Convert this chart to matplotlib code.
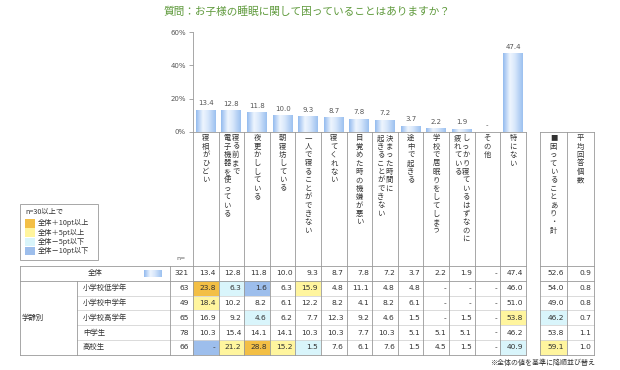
import numpy as np
import matplotlib.pyplot as plt
from matplotlib.colors import LinearSegmentedColormap
from matplotlib.patches import Rectangle

plt.rcParams['font.family'] = ['Noto Sans CJK JP', 'DejaVu Sans']

title = '質問：お子様の睡眠に関して困っていることはありますか？'

items = ['寝相がひどい', '寝る前まで\n電子機器を使っている', '夜更かししている', '朝寝坊している',
         '一人で寝ることができない', '寝てくれない', '目覚めた時の機嫌が悪い',
         '決まった時間に\n起きることができない', '途中で起きる', '学校で居眠りをしてしまう',
         'しっかり寝ているはずなのに\n疲れている', 'その他', '特にない']
extra_items = ['■困っていることあり・計', '平均回答個数']

# 0 = "-"
total_n = 321
total = [13.4, 12.8, 11.8, 10.0, 9.3, 8.7, 7.8, 7.2, 3.7, 2.2, 1.9, 0, 47.4]
total_extra = [52.6, 0.9]

groups = ['小学校低学年', '小学校中学年', '小学校高学年', '中学生', '高校生']
group_n = [63, 49, 65, 78, 66]
low = [23.8, 6.3, 1.6, 6.3, 15.9, 4.8, 11.1, 4.8, 4.8, 0, 0, 0, 46.0]
mid = [18.4, 10.2, 8.2, 6.1, 12.2, 8.2, 4.1, 8.2, 6.1, 0, 0, 0, 51.0]
high = [16.9, 9.2, 4.6, 6.2, 7.7, 12.3, 9.2, 4.6, 1.5, 0, 1.5, 0, 53.8]
jhs = [10.3, 15.4, 14.1, 14.1, 10.3, 10.3, 7.7, 10.3, 5.1, 5.1, 5.1, 0, 46.2]
hs = [0, 21.2, 28.8, 15.2, 1.5, 7.6, 6.1, 7.6, 1.5, 4.5, 1.5, 0, 40.9]
group_values = [low, mid, high, jhs, hs]
group_concern = [54.0, 49.0, 46.2, 53.8, 59.1]
group_avg = [0.8, 0.8, 0.7, 1.1, 1.0]

legend_labels = ['全体＋10pt以上', '全体＋5pt以上', '全体－5pt以下', '全体－10pt以下']
legend_colors = ['#f3bf45', '#fff59e', '#d9f5fb', '#9dbeec']

W, H = 620, 370
x0, cw = 193, 25.6
x_end = x0 + cw * len(items)
ex0, ecw = 540, 27
y_base, y_60 = 131.7, 32.3
t_top, rh = 266, 14.8
t_bot = t_top + rh * 6
line_c = '#999999'
light_c = '#d4d4d4'
txt_c = '#333333'

bar_cmap = LinearSegmentedColormap.from_list(
    'cyl', [(0, '#94bbef'), (0.35, '#eef5fe'), (0.6, '#d8e7fb'), (1, '#9cc1f0')])
grad = np.linspace(0, 1, 64).reshape(1, -1)


def fmt(v):
    return '-' if v == 0 else f'{v:.1f}'


def cell_color(v, base):
    if base == 0:
        return None
    d = round(v - base, 1)
    if d >= 10:
        return legend_colors[0]
    if d >= 5:
        return legend_colors[1]
    if d <= -10:
        return legend_colors[3]
    if d <= -5:
        return legend_colors[2]
    return None


fig = plt.figure(figsize=(6.2, 3.7), dpi=100)

# bar chart
ax = fig.add_axes([x0 / W, (H - y_base) / H, (x_end - x0) / W, (y_base - y_60) / H])
ax.patch.set_alpha(0)
xs = np.arange(len(items)) + 0.5
bars = ax.bar(xs, total, width=0.78, color='none', edgecolor='none')
for b in bars:
    if b.get_height() > 0:
        im = ax.imshow(grad, extent=[b.get_x(), b.get_x() + b.get_width(), 0, b.get_height()],
                       cmap=bar_cmap, aspect='auto', zorder=2)
        im.set_clip_path(b)
for x, v in zip(xs, total):
    ax.annotate(fmt(v), (x, v), xytext=(0, 2.5), textcoords='offset points',
                ha='center', va='bottom', fontsize=5, color='#555555', family='DejaVu Sans')
ax.set_xlim(0, len(items))
ax.set_ylim(0, 60)
ax.set_yticks([0, 20, 40, 60])
ax.set_yticklabels(['0%', '20%', '40%', '60%'], family='DejaVu Sans')
ax.tick_params(axis='y', labelsize=5, labelcolor='#555555', length=3, width=0.6, color=line_c, pad=2)
ax.set_xticks([])
for s in ['top', 'right', 'bottom']:
    ax.spines[s].set_visible(False)
ax.spines['left'].set_color(line_c)
ax.spines['left'].set_linewidth(0.6)

# overlay in pixel coordinates
ov = fig.add_axes([0, 0, 1, 1])
ov.set_xlim(0, W)
ov.set_ylim(H, 0)
ov.axis('off')

ov.text(307, 12, title, ha='center', va='center', fontsize=7.7, color='#5f9a3c')


def vtext(xc, ys, text, pitch=8.4, sep=8.4, fs=5.3):
    lines = text.split('\n')
    n = len(lines)
    for j, line in enumerate(lines):
        xx = xc + (n - 1) / 2 * sep - j * sep
        for k, ch in enumerate(line):
            ov.text(xx, ys + k * pitch, ch, ha='center', va='center', fontsize=fs, color=txt_c)


for i, lab in enumerate(items):
    vtext(x0 + cw * (i + 0.5), 138.3, lab)
for i, lab in enumerate(extra_items):
    vtext(ex0 + ecw * (i + 0.5), 138.3, lab)

ov.text(181, 258, 'n=', ha='center', va='center', fontsize=4.5, color='#555555', family='DejaVu Sans')

# table fills and numbers
rows_main = [total] + group_values
rows_extra = [total_extra] + [[c, a] for c, a in zip(group_concern, group_avg)]
for r in range(6):
    yc = t_top + rh * (r + 0.5)
    for i, v in enumerate(rows_main[r]):
        if r > 0:
            c = cell_color(v, total[i])
            if c:
                ov.add_patch(Rectangle((x0 + cw * i, t_top + rh * r), cw, rh, color=c, lw=0))
        ov.text(x0 + cw * (i + 1) - 3, yc, fmt(v), ha='right', va='center',
                fontsize=5.4, color=txt_c, family='DejaVu Sans')
    for i, v in enumerate(rows_extra[r]):
        if r > 0 and i == 0:
            c = cell_color(v, total_extra[0])
            if c:
                ov.add_patch(Rectangle((ex0 + ecw * i, t_top + rh * r), ecw, rh, color=c, lw=0))
        ov.text(ex0 + ecw * (i + 1) - 3, yc, fmt(v), ha='right', va='center',
                fontsize=5.4, color=txt_c, family='DejaVu Sans')

ns = [total_n] + group_n
for r, n in enumerate(ns):
    ov.text(189, t_top + rh * (r + 0.5), str(n), ha='right', va='center',
            fontsize=5.4, color=txt_c, family='DejaVu Sans')

ov.text(95, t_top + rh / 2, '全体', ha='center', va='center', fontsize=5.3, color=txt_c)
ov.imshow(grad, extent=[144, 162, t_top + 11, t_top + 4], cmap=bar_cmap, aspect='auto')
ov.text(22, t_top + rh * 3.5, '学齢別', ha='left', va='center', fontsize=5.3, color=txt_c)
for r, g in enumerate(groups):
    ov.text(83, t_top + rh * (r + 1.5), g, ha='left', va='center', fontsize=5.3, color=txt_c)

# table lines
lw = 0.6
for xl, xr in [(20, x_end), (ex0, ex0 + 2 * ecw)]:
    ov.plot([xl, xr], [t_top, t_top], color=line_c, lw=lw)
    ov.plot([xl, xr], [t_top + rh, t_top + rh], color=line_c, lw=lw)
    ov.plot([xl, xr], [t_bot, t_bot], color=line_c, lw=lw)
    for r in range(2, 6):
        ov.plot([max(xl, 77), xr], [t_top + rh * r] * 2, color=light_c, lw=lw)
ov.plot([x0, x_end], [y_base, y_base], color=line_c, lw=lw)
ov.plot([ex0, ex0 + 2 * ecw], [y_base, y_base], color=line_c, lw=lw)
ov.plot([20, 20], [t_top, t_bot], color=line_c, lw=lw)
ov.plot([77, 77], [t_top + rh, t_bot], color=line_c, lw=lw)
ov.plot([170, 170], [t_top, t_bot], color=line_c, lw=lw)
for i in range(len(items) + 1):
    ov.plot([x0 + cw * i] * 2, [y_base, t_bot], color=line_c, lw=lw)
for i in range(3):
    ov.plot([ex0 + ecw * i] * 2, [y_base, t_bot], color=line_c, lw=lw)

# legend
ov.add_patch(Rectangle((20, 204), 78, 56, facecolor='white', edgecolor=line_c, lw=lw))
ov.text(25, 212, 'n=30以上で', ha='left', va='center', fontsize=5.2, color=txt_c)
for k, (lab, c) in enumerate(zip(legend_labels, legend_colors)):
    yy = 219 + 9.3 * k
    ov.add_patch(Rectangle((25, yy), 10, 8.5, color=c, lw=0))
    ov.text(38, yy + 4.3, lab, ha='left', va='center', fontsize=5.2, color=txt_c)

ov.text(595, 363, '※全体の値を基準に降順並び替え', ha='right', va='center', fontsize=5, color=txt_c)

ov.set_xlim(0, W)
ov.set_ylim(H, 0)

fig.savefig('out.png', dpi=100)
